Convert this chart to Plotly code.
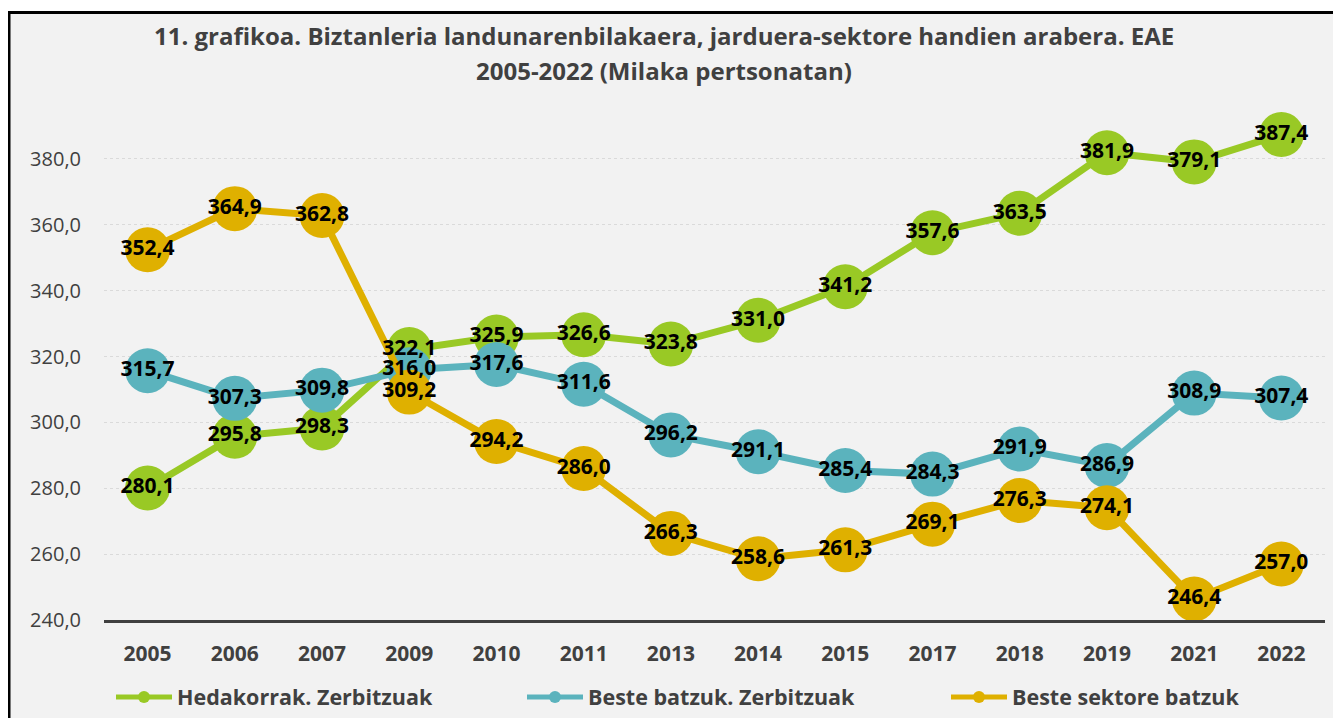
import plotly.graph_objects as go

years = ["2005", "2006", "2007", "2009", "2010", "2011", "2013", "2014",
         "2015", "2017", "2018", "2019", "2021", "2022"]
hedakorrak = [280.1, 295.8, 298.3, 322.1, 325.9, 326.6, 323.8, 331.0,
              341.2, 357.6, 363.5, 381.9, 379.1, 387.4]
beste_zerb = [315.7, 307.3, 309.8, 316.0, 317.6, 311.6, 296.2, 291.1,
              285.4, 284.3, 291.9, 286.9, 308.9, 307.4]
beste_sekt = [352.4, 364.9, 362.8, 309.2, 294.2, 286.0, 266.3, 258.6,
              261.3, 269.1, 276.3, 274.1, 246.4, 257.0]
names = ["Hedakorrak. Zerbitzuak", "Beste batzuk. Zerbitzuak", "Beste sektore batzuk"]
colors = ["#99C925", "#5BB3BD", "#DFB000"]
y_ticks = [240, 260, 280, 300, 320, 340, 360, 380]

FONT = "Open Sans"
TXT = "#404040"

def fmt(v):
    return f"{v:.1f}".replace(".", ",")

series = [hedakorrak, beste_zerb, beste_sekt]
legends = ["legend", "legend2", "legend3"]

fig = go.Figure()
for s, n, c, lg in zip(series, names, colors, legends):
    fig.add_trace(go.Scatter(
        x=years, y=s, name=n, mode="lines+markers",
        line=dict(color=c, width=7),
        marker=dict(color=c, size=45),
        cliponaxis=False, legend=lg,
    ))
for s in series:
    fig.add_trace(go.Scatter(
        x=years, y=s, mode="text", text=[fmt(v) for v in s],
        textposition="middle center",
        textfont=dict(family=FONT, size=21, color="black", weight="bold"),
        showlegend=False, cliponaxis=False, hoverinfo="skip",
    ))

# page body offset compensation (reference pixel -> figure pixel)
OFF = 8
W, H = 1341 - OFF, 718 - OFF
PL, PR, PT, PB = 104, 1325, 126, 620          # plot area in reference pixels
L, T = PL - OFF, PT - OFF
R, B = W - (PR - OFF), H - (PB - OFF)
pw, ph = PR - PL, PB - PT

def px_x(p):
    return (p - PL) / pw

def px_y(p):
    return (PB - p) / ph

fig.add_shape(type="rect", xref="paper", yref="paper",
              x0=px_x(9), x1=1.05, y0=-0.4, y1=px_y(12.5),
              line=dict(color="black", width=3), fillcolor="#F2F2F2", layer="below")

fig.add_annotation(text="<b>11. grafikoa. Biztanleria landunarenbilakaera, jarduera-sektore handien arabera. EAE</b>",
                   xref="paper", yref="paper", x=px_x(664), y=px_y(36),
                   xanchor="center", yanchor="middle", showarrow=False,
                   font=dict(family=FONT, size=24, color=TXT))
fig.add_annotation(text="<b>2005-2022 (Milaka pertsonatan)</b>",
                   xref="paper", yref="paper", x=px_x(664), y=px_y(71),
                   xanchor="center", yanchor="middle", showarrow=False,
                   font=dict(family=FONT, size=24, color=TXT))

leg_common = dict(orientation="h", yanchor="middle", y=px_y(697), xanchor="left",
                  bgcolor="rgba(0,0,0,0)", itemsizing="constant", itemwidth=56,
                  font=dict(family=FONT, size=21.5, color=TXT, weight="bold"))
fig.update_layout(
    width=W, height=H,
    margin=dict(l=L, r=R, t=T, b=B, autoexpand=False),
    paper_bgcolor="white", plot_bgcolor="rgba(0,0,0,0)",
    font=dict(family=FONT, color=TXT),
    legend=dict(x=px_x(111), **leg_common),
    legend2=dict(x=px_x(522), **leg_common),
    legend3=dict(x=px_x(946), **leg_common),
    xaxis=dict(type="category", range=[-0.5, 13.5], showgrid=False,
               showline=True, linecolor=TXT, linewidth=3, ticks="",
               tickfont=dict(family=FONT, size=21, color=TXT, weight="bold"),
               ticklabelstandoff=13),
    yaxis=dict(range=[240, 390], tickvals=y_ticks, ticktext=[fmt(v) for v in y_ticks],
               showgrid=True, gridcolor="#DADADA", griddash="dot", gridwidth=1,
               zeroline=False, showline=False, ticks="",
               tickfont=dict(family=FONT, size=20, color=TXT),
               ticklabelstandoff=22),
    showlegend=True,
)

fig.write_html("out.html")
